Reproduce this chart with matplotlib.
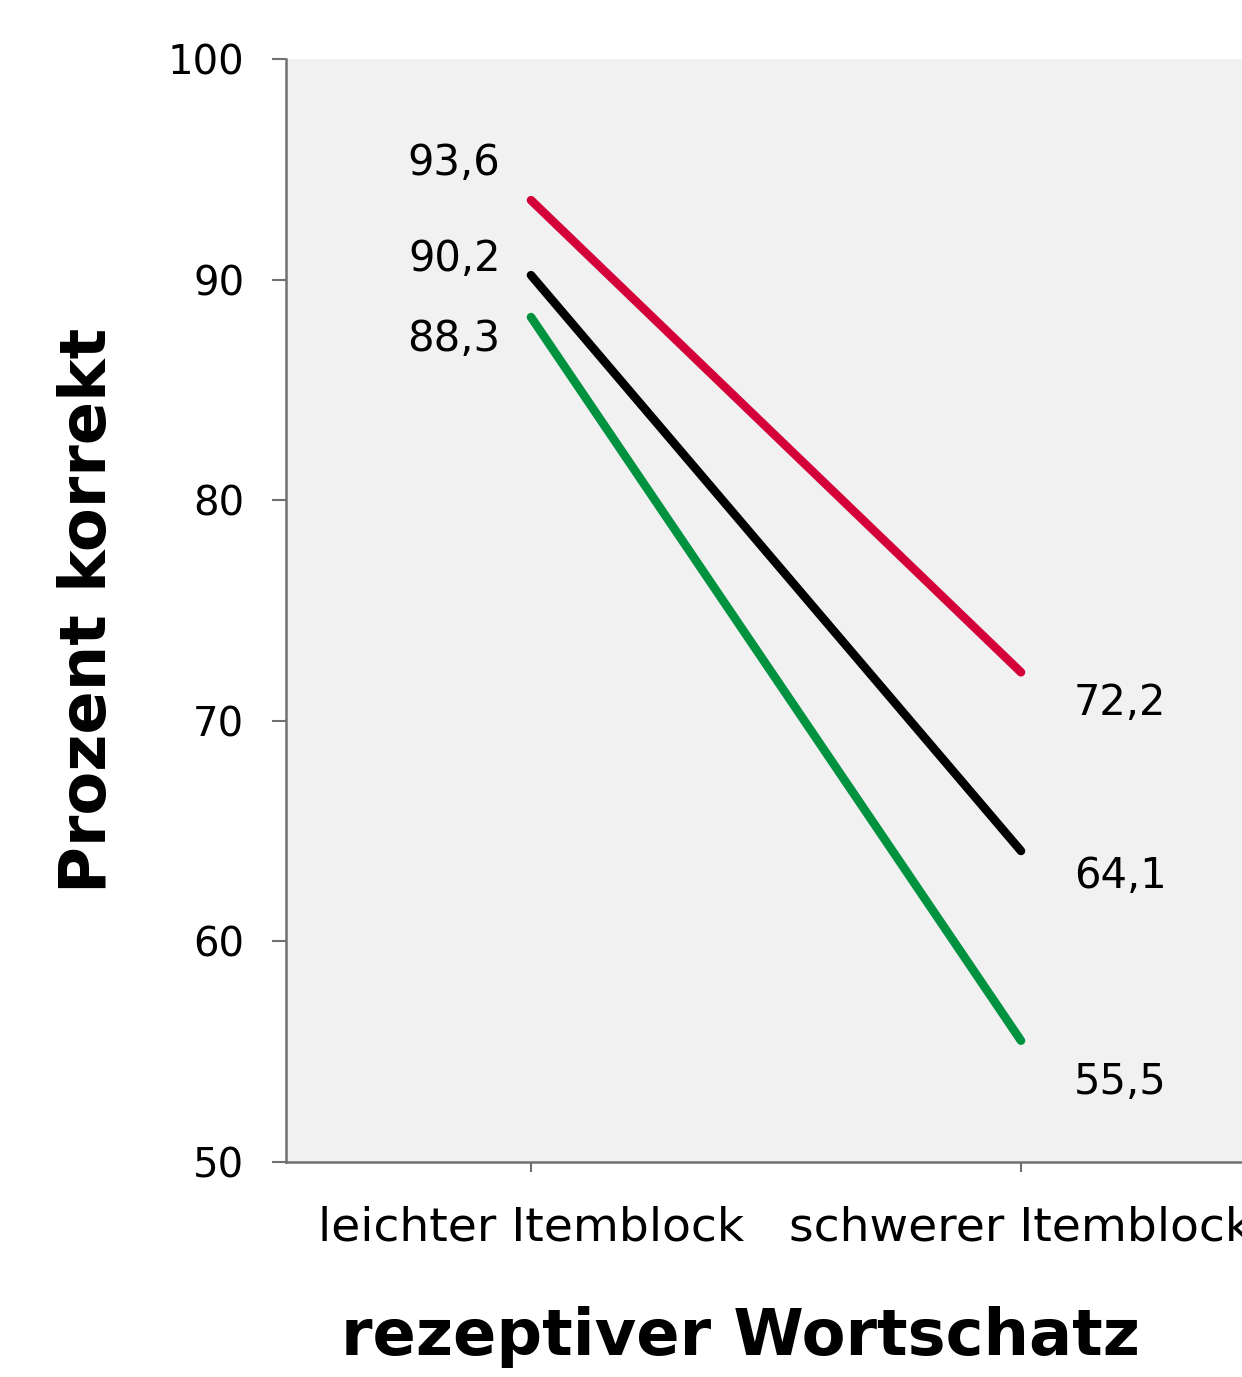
import numpy as np
import matplotlib
matplotlib.use('Agg')
import matplotlib.pyplot as plt

# Daten
categories = ['leichter Itemblock', 'schwerer Itemblock']
series_red = [93.6, 72.2]
series_black = [90.2, 64.1]
series_green = [88.3, 55.5]
yticks = [50, 60, 70, 80, 90, 100]

plt.rcParams['font.family'] = ['DejaVu Sans']

W, H = 1242, 1377
fig = plt.figure(figsize=(W / 100, H / 100), dpi=100)
# Achse ragt rechts über den Bildrand hinaus (wie im Original abgeschnitten)
ax = fig.add_axes([286 / W, 215 / H, 980 / W, 1103 / H])
ax.set_facecolor('#f1f1f1')

x = np.arange(len(categories))
lines = [
    (series_red, '#d4003a', 27, -22),
    (series_black, '#000000', 12, -18),
    (series_green, '#00923f', -16, -30),
]
for vals, col, dy_l, dy_r in lines:
    ax.plot(x, vals, color=col, lw=6.2, solid_capstyle='round', zorder=3)
    ax.annotate(f'{vals[0]:.1f}'.replace('.', ','), (x[0], vals[0]),
                xytext=(-22, dy_l), textcoords='offset points',
                ha='right', va='center', fontsize=30)
    ax.annotate(f'{vals[1]:.1f}'.replace('.', ','), (x[1], vals[1]),
                xytext=(38, dy_r), textcoords='offset points',
                ha='left', va='center', fontsize=30)

ax.set_xlim(-0.5, 1.5)
ax.set_ylim(50, 100)
ax.set_yticks(yticks)
ax.set_xticks(x)
ax.set_xticklabels(categories)
ax.tick_params(axis='y', length=10, width=1.5, color='#707070', labelsize=29, pad=20)
ax.tick_params(axis='x', length=7, width=1.5, color='#707070', labelsize=34, pad=24)
for s in ['top', 'right']:
    ax.spines[s].set_visible(False)
for s in ['left', 'bottom']:
    ax.spines[s].set_color('#707070')
    ax.spines[s].set_linewidth(1.8)

fig.text(88 / W, 1 - 610 / H, 'Prozent korrekt', rotation=90, ha='center', va='center',
         fontsize=46, fontweight='bold')
fig.text(740 / W, 1 - 1337 / H, 'rezeptiver Wortschatz', ha='center', va='center',
         fontsize=46, fontweight='bold')

fig.savefig('out.png', dpi=100)
